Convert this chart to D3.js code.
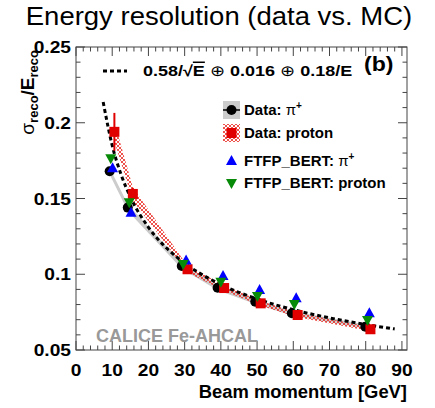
<!DOCTYPE html>
<html><head><meta charset="utf-8">
<script src="https://cdn.jsdelivr.net/npm/d3@7"></script>
<style>body{margin:0;background:#fff}</style>
</head><body><svg id="c" width="435" height="408"></svg>
<script>
// ---------------- data ----------------
const xTickLabels = ["0","10","20","30","40","50","60","70","80","90"];
const yTickLabels = ["0.05","0.1","0.15","0.2","0.25"];

const piDataX   = [9.3, 14.3, 29.2, 39.1, 49.5, 59.6, 79.9];
const piDataY   = [0.168, 0.144, 0.1055, 0.0911, 0.0819, 0.0742, 0.0654];
const piDataSys = [0.0022, 0.0022, 0.0018, 0.0016, 0.0015, 0.0015, 0.0014];

const pDataX    = [10.6, 15.7, 30.8, 40.9, 51.0, 61.2, 81.3];
const pDataY    = [0.194, 0.153, 0.1033, 0.0909, 0.0808, 0.0731, 0.0637];
const pDataErr  = [0.0125, 0.004, 0.001, 0.001, 0.001, 0.001, 0.001];
const pDataSys  = [0.0065, 0.0045, 0.0022, 0.0018, 0.0016, 0.0015, 0.0014];

const mcPiX     = [10.1, 15.2, 30.4, 40.6, 50.7, 60.8, 81.0];
const mcPiY     = [0.170, 0.1406, 0.109, 0.0988, 0.0896, 0.0841, 0.0742];

const mcPX      = [9.6, 14.7, 29.6, 40.0, 50.1, 60.3, 80.5];
const mcPY      = [0.1765, 0.1475, 0.1068, 0.095, 0.0856, 0.0804, 0.0698];

// fit curve 0.58/sqrt(E) (+) 0.016 (+) 0.18/E
const fitE      = [7.5, 10, 12.5, 15, 20, 25, 30, 40, 50, 60, 70, 80, 88];
const fitRes    = [0.2137, 0.1850, 0.1655, 0.1511, 0.1310, 0.1173, 0.1073, 0.0932, 0.0837, 0.0766, 0.0712, 0.0668, 0.0639];

const legendLabels = ["Data: ", "Data: proton", "FTFP_BERT: ", "FTFP_BERT: proton"];

// ---------------- layout ----------------
const svg = d3.select("#c");
const FONT = "'Liberation Sans', Arial, Helvetica, sans-serif";
const L = 76, R = 407, T = 47, B = 350;
const x = d3.scaleLinear().domain([0, 91.4]).range([L, R]);
const y = d3.scaleLinear().domain([0.05, 0.25]).range([B, T]);

const defs = svg.append("defs");
const pat = defs.append("pattern").attr("id","hatch").attr("patternUnits","userSpaceOnUse")
  .attr("width",4).attr("height",4);
pat.append("path").attr("d","M0,0L4,4M4,0L0,4M-1,3L1,5M3,-1L5,1")
  .attr("stroke","#e8261e").attr("stroke-width",0.8).attr("fill","none");
defs.append("clipPath").attr("id","clipf").append("rect")
  .attr("x",L).attr("y",T).attr("width",R-L).attr("height",B-T);

function txt(g, px, py, s, o) {
  o = o || {};
  const t = g.append("text")
    .attr("transform", `translate(${px},${py}) scale(${o.sx||1},1)`)
    .attr("font-family", FONT)
    .attr("font-size", o.size || 16)
    .attr("font-weight", o.weight || "bold")
    .attr("fill", o.fill || "#000")
    .attr("text-anchor", o.anchor || "start");
  if (s !== null) t.text(s);
  return t;
}

// title
txt(svg, 219, 25, "Energy resolution (data vs. MC)", {size: 25, sx: 1.1, weight: "normal", anchor: "middle"});

// ---------------- axes ----------------
const axG = svg.append("g");
const xMajor = d3.range(0, 91, 10), xMinor = d3.range(0, 91, 2).filter(v => v % 10 !== 0);
const yMajor = [0.05,0.1,0.15,0.2,0.25], yMinor = d3.range(5, 26, 1).map(v => v/100).filter(v => Math.round(v*100) % 5 !== 0);
const tick = (x1,y1,x2,y2) => axG.append("line").attr("x1",x1).attr("y1",y1).attr("x2",x2).attr("y2",y2)
  .attr("stroke","#444").attr("stroke-width",1);
xMajor.forEach(v => { tick(x(v),B,x(v),B-9); tick(x(v),T,x(v),T+9); });
xMinor.forEach(v => { tick(x(v),B,x(v),B-4.5); tick(x(v),T,x(v),T+4.5); });
yMajor.forEach(v => { tick(L,y(v),L+9,y(v)); tick(R,y(v),R-9,y(v)); });
yMinor.forEach(v => { tick(L,y(v),L+4.5,y(v)); tick(R,y(v),R-4.5,y(v)); });
axG.append("rect").attr("x",L).attr("y",T).attr("width",R-L).attr("height",B-T)
  .attr("fill","none").attr("stroke","#444").attr("stroke-width",1);

xMajor.forEach((v,i) => txt(axG, x(v), 376, xTickLabels[i], {size: 17, sx: 1.13, anchor: "middle"}));
yMajor.forEach((v,i) => txt(axG, 71, y(v)+6, yTickLabels[i], {size: 17, sx: 1.13, anchor: "end"}));

txt(axG, 407, 398, "Beam momentum [GeV]", {size: 17.5, sx: 1.05, anchor: "end"});

// y label
const yl = svg.append("text").attr("transform","translate(34,50) rotate(-90)")
  .attr("font-family",FONT).attr("text-anchor","end").attr("font-weight","bold").attr("font-size",19);
yl.append("tspan").attr("font-weight","normal").text("σ");
yl.append("tspan").attr("font-size",13).attr("dy",4).text("reco");
yl.append("tspan").attr("dy",-4).text("/E");
yl.append("tspan").attr("font-size",13).attr("dy",4).text("reco");

// ---------------- plot ----------------
const pg = svg.append("g").attr("clip-path","url(#clipf)");

const piIdx = d3.range(piDataX.length), pIdx = d3.range(pDataX.length);
pg.append("path").datum(piIdx).attr("fill","#cccccc")
  .attr("d", d3.area().x(i => x(piDataX[i])).y0(i => y(piDataY[i]-piDataSys[i])).y1(i => y(piDataY[i]+piDataSys[i])));
pg.append("path").datum(pIdx).attr("fill","url(#hatch)")
  .attr("d", d3.area().x(i => x(pDataX[i])).y0(i => y(pDataY[i]-pDataSys[i])).y1(i => y(pDataY[i]+pDataSys[i])));

// fit curve
pg.append("path").datum(d3.range(fitE.length)).attr("fill","none").attr("stroke","#000")
  .attr("stroke-width",3).attr("stroke-dasharray","4,3")
  .attr("d", d3.line().x(i => x(fitE[i])).y(i => y(fitRes[i])).curve(d3.curveMonotoneX));

// error bars
pIdx.forEach(i => pg.append("line").attr("x1",x(pDataX[i])).attr("x2",x(pDataX[i]))
  .attr("y1",y(pDataY[i]-pDataErr[i])).attr("y2",y(pDataY[i]+pDataErr[i]))
  .attr("stroke","#e00000").attr("stroke-width",2));

const RED = "#e00000", BLUE = "#0000ff", GREEN = "#078a07";
// markers
piIdx.forEach(i => pg.append("circle").attr("cx",x(piDataX[i])).attr("cy",y(piDataY[i])).attr("r",5).attr("fill","#000"));
pIdx.forEach(i => pg.append("rect").attr("x",x(pDataX[i])-5).attr("y",y(pDataY[i])-5).attr("width",10).attr("height",10).attr("fill",RED));
const triUp = "M0,-6L5.5,4L-5.5,4Z", triDn = "M0,6L5.5,-4L-5.5,-4Z";
mcPiX.forEach((v,i) => pg.append("path").attr("d",triUp).attr("transform",`translate(${x(v)},${y(mcPiY[i])})`).attr("fill",BLUE));
mcPX.forEach((v,i) => pg.append("path").attr("d",triDn).attr("transform",`translate(${x(v)},${y(mcPY[i])})`).attr("fill",GREEN));

// ---------------- legend / labels ----------------
const lg = svg.append("g");
// formula
lg.append("line").attr("x1",103).attr("x2",127).attr("y1",71).attr("y2",71)
  .attr("stroke","#000").attr("stroke-width",3).attr("stroke-dasharray","4,3");
const ft = txt(lg, 143, 76, null, {size: 15, sx: 1.2});
ft.append("tspan").text("0.58/√");
ft.append("tspan").attr("text-decoration","overline").text("E");
ft.append("tspan").attr("font-weight","normal").text("  ⊕ ");
ft.append("tspan").text("0.016  ");
ft.append("tspan").attr("font-weight","normal").text("⊕ ");
ft.append("tspan").text("0.18/E");
txt(lg, 364, 71, "(b)", {size: 21, sx: 1.1});

// entry 1
lg.append("rect").attr("x",223).attr("y",101).attr("width",17).attr("height",18).attr("fill","#cccccc");
lg.append("line").attr("x1",223).attr("x2",240).attr("y1",110).attr("y2",110).attr("stroke","#000").attr("stroke-width",1.5);
lg.append("circle").attr("cx",231.5).attr("cy",110).attr("r",5).attr("fill","#000");
const t1 = txt(lg, 244, 115, null, {size: 15});
t1.append("tspan").text(legendLabels[0]);
t1.append("tspan").attr("font-weight","normal").text("π");
t1.append("tspan").attr("font-size",10).attr("dy",-6).text("+");
// entry 2
lg.append("rect").attr("x",223).attr("y",124).attr("width",17).attr("height",18).attr("fill","url(#hatch)");
lg.append("rect").attr("x",226.5).attr("y",128).attr("width",10).attr("height",10).attr("fill",RED);
txt(lg, 244, 138, legendLabels[1], {size: 15});
// entry 3
lg.append("path").attr("d",triUp).attr("transform","translate(231.5,161)").attr("fill",BLUE);
const t3 = txt(lg, 244, 166, null, {size: 15});
t3.append("tspan").text(legendLabels[2]);
t3.append("tspan").attr("font-weight","normal").text("π");
t3.append("tspan").attr("font-size",10).attr("dy",-6).text("+");
// entry 4
lg.append("path").attr("d",triDn).attr("transform","translate(231.5,183)").attr("fill",GREEN);
txt(lg, 244, 188, legendLabels[3], {size: 15});

txt(lg, 96, 342, "CALICE Fe-AHCAL", {size: 18, fill: "#999999"});
</script></body></html>
